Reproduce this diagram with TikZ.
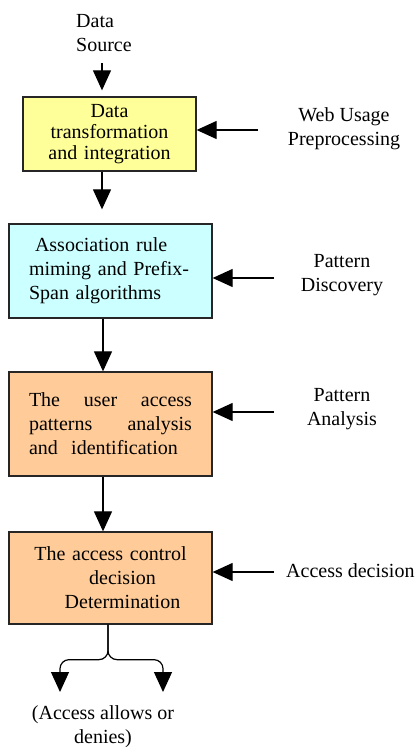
\documentclass[tikz,border=0pt]{standalone}
\usepackage{fontspec}
\setmainfont{Liberation Serif}
\usetikzlibrary{arrows.meta}

\begin{document}
\begin{tikzpicture}[x=1pt,y=-1pt,
  every node/.style={font=\fontsize{20}{24}\selectfont,inner sep=0pt},
  block/.style={draw=black!85,line width=1.3pt,minimum width=203pt,text width=163pt,inner xsep=20pt},
  arr/.style={line width=1.2pt,-{Triangle[width=18pt,length=20pt]}}]
\useasboundingbox (0,0) rectangle (419,747);
\node [align=left,anchor=west] (src) at (76,33) {Data\\Source};
\node [block,fill={rgb,255:red,255;green,255;blue,153},minimum width=173pt,text width=133pt,minimum height=74pt,align=center,font=\fontsize{20}{21}\selectfont] (a) at (109.5,134) {Data\\transformation\\and integration};
\node [block,fill={rgb,255:red,204;green,255;blue,255},minimum height=94pt,align=left] (b) at (110.5,271) {\hspace*{6pt}Association rule\\miming and Prefix-\\Span algorithms};
\node [block,fill={rgb,255:red,255;green,204;blue,153},minimum height=104pt,align=left] (c) at (110.5,424) {The\hfill user\hfill access\\patterns\hfill analysis\\and~ identification};
\node [block,fill={rgb,255:red,255;green,204;blue,153},minimum height=92pt,align=center] (d) at (110.5,578) {The access control\\\hspace*{24pt}decision\\\hspace*{24pt}Determination};
\node [align=center] (wup) at (344,129) {Web Usage\\Preprocessing};
\node [align=center] (pd) at (342,275) {Pattern\\Discovery};
\node [align=center] (pa) at (342,409) {Pattern\\Analysis};
\node [anchor=west] (ad) at (286,571) {Access decision};
\node [align=center] (res) at (103,727) {(Access allows or\\denies)};
\coordinate (s) at (102,63);
\coordinate (wu) at (258,130);
\coordinate (dis) at (274,278);
\coordinate (ana) at (274,412);
\coordinate (dec) at (274,572);
\coordinate (allow) at (60,692);
\coordinate (deny) at (163,692);
\draw [arr,shorten >=6pt] (s) -- (s |- a.north);
\draw [arr,shorten >=14pt] (s |- a.south) -- (s |- b.north);
\draw [arr] ([xshift=-7.5pt]b.south) -- ([xshift=-7.5pt]c.north);
\draw [arr] ([xshift=-7.5pt]c.south) -- ([xshift=-7.5pt]d.north);
\draw [arr] (wu) -- (wu -| a.east);
\draw [arr] (dis) -- (dis -| b.east);
\draw [arr] (ana) -- (ana -| c.east);
\draw [arr] (dec) -- (dec -| d.east);
\draw [arr,rounded corners=9pt] ([xshift=-2.5pt]d.south) -- ++(0,35) -| (allow);
\draw [arr,rounded corners=9pt] ([xshift=-2.5pt]d.south) -- ++(0,35) -| (deny);
\end{tikzpicture}
\end{document}
